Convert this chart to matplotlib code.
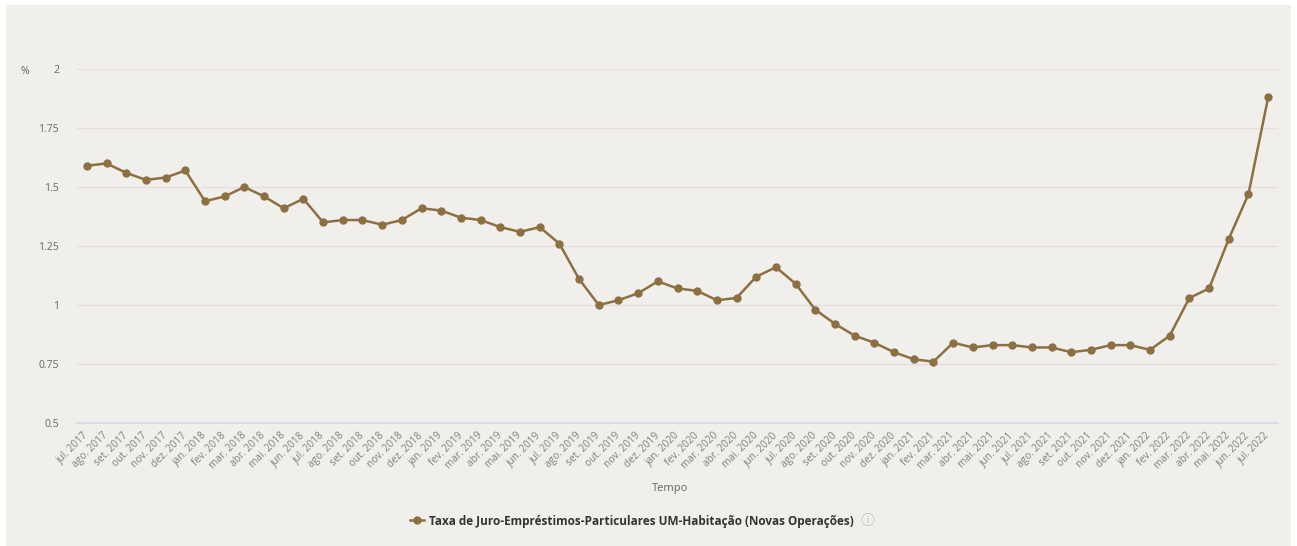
import numpy as np
import matplotlib
matplotlib.use("Agg")
import matplotlib.pyplot as plt
from matplotlib.patches import Rectangle
from matplotlib.lines import Line2D

# Meses (jul. 2017 a jul. 2022)
meses = ["jan.", "fev.", "mar.", "abr.", "mai.", "jun.",
         "jul.", "ago.", "set.", "out.", "nov.", "dez."]
rotulos = []
for ano in range(2017, 2023):
    for i, m in enumerate(meses):
        if (ano == 2017 and i < 6) or (ano == 2022 and i > 6):
            continue
        rotulos.append(f"{m} {ano}")

# Taxa de juro (%)
taxa = [1.59, 1.60, 1.56, 1.53, 1.54, 1.57,
        1.44, 1.46, 1.50, 1.46, 1.41, 1.45, 1.35, 1.36, 1.36, 1.34, 1.36, 1.41,
        1.40, 1.37, 1.36, 1.33, 1.31, 1.33, 1.26, 1.11, 1.00, 1.02, 1.05, 1.10,
        1.07, 1.06, 1.02, 1.03, 1.12, 1.16, 1.09, 0.98, 0.92, 0.87, 0.84, 0.80,
        0.77, 0.76, 0.84, 0.82, 0.83, 0.83, 0.82, 0.82, 0.80, 0.81, 0.83, 0.83,
        0.81, 0.87, 1.03, 1.07, 1.28, 1.47, 1.88]
yticks = [0.5, 0.75, 1, 1.25, 1.5, 1.75, 2]
ytick_labels = ["0.5", "0.75", "1", "1.25", "1.5", "1.75", "2"]
serie = "Taxa de Juro-Empréstimos-Particulares UM-Habitação (Novas Operações)"

cor = "#8c7042"
fundo = "#f1efec"
plt.rcParams["font.family"] = ["Open Sans", "DejaVu Sans"]

fig = plt.figure(figsize=(12.97, 5.46), dpi=100, facecolor="white")
fig.add_artist(Rectangle((6 / 1297, 0), 1285 / 1297, 541 / 546,
                         transform=fig.transFigure, facecolor=fundo,
                         edgecolor="none", zorder=-10))
ax = fig.add_axes([77 / 1297, 123 / 546, 1201 / 1297, 354 / 546])
ax.patch.set_alpha(0)

x = np.arange(len(taxa))
ax.plot(x, taxa, color=cor, lw=1.8, marker="o", ms=5, zorder=3)

ax.set_xlim(-0.5, len(taxa) - 0.5)
ax.set_ylim(0.5, 2)
ax.set_yticks(yticks)
ax.set_yticklabels(ytick_labels, fontsize=7.5, color="#666666")
ax.set_xticks(x)
ax.set_xticklabels(rotulos, rotation=45, ha="right", va="center",
                   rotation_mode="anchor", fontsize=7.3, color="#808080")
ax.tick_params(length=0)
ax.tick_params(axis="y", pad=13)
ax.tick_params(axis="x", pad=8)
ax.grid(axis="y", color="#e2dfdc", lw=1)
ax.set_axisbelow(True)
for s in ["top", "right", "left"]:
    ax.spines[s].set_visible(False)
ax.spines["bottom"].set_color("#d9d8e2")
ax.spines["bottom"].set_linewidth(1.2)

fig.text(25 / 1297, 1 - 72 / 546, "%", fontsize=7.5, color="#666666",
         ha="center", va="center")
fig.text(670 / 1297, 1 - 488 / 546, "Tempo", fontsize=8, color="#666666",
         ha="center", va="center")

h = Line2D([], [], color=cor, lw=1.8, marker="o", ms=5)
leg = fig.legend([h], [serie], loc="center", bbox_to_anchor=(0.487, 1 - 521 / 546),
                 frameon=False, handlelength=1.2, handletextpad=0.4,
                 prop={"weight": "bold", "size": 8.5})
for t in leg.get_texts():
    t.set_color("#333333")
fig.canvas.draw()
bb = leg.get_window_extent()
fig.text((bb.x1 + 2) / 1297, 1 - 521 / 546, "ⓘ", fontsize=10, color="#bbbbbb",
         ha="left", va="center", family=["Noto Sans CJK SC", "DejaVu Sans"])

fig.savefig("out.png", dpi=100, facecolor=fig.get_facecolor())
